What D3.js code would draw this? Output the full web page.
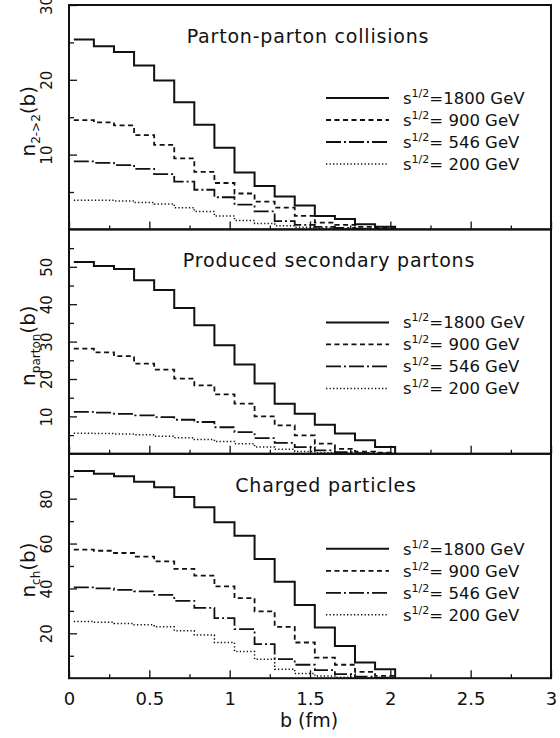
<!DOCTYPE html>
<html lang="en">
<head>
<meta charset="UTF-8" />
<title>b distributions</title>
<style>
  body { margin: 0; background: #fff; }
  svg text { font-family: "DejaVu Sans", sans-serif; fill: #111; }
  .legend text { white-space: pre; }
</style>
</head>
<body>
<div id="wrapper"></div>
<script src="https://d3js.org/d3.v7.min.js"></script>
<script>
// bin left edges in fm (last value is the right edge of the last bin)
const binEdges = [0.03, 0.155, 0.28, 0.405, 0.53, 0.655, 0.78, 0.905, 1.03,
                  1.155, 1.28, 1.405, 1.53, 1.655, 1.78, 1.905, 2.03];

// Parton-parton collisions, n_{2->2}(b)
const collisions1800 = [25.4, 24.5, 23.7, 21.9, 19.9, 17.0, 14.0, 10.9, 7.6, 5.8, 4.4, 3.2, 1.8, 1.4, 0.7, 0.35];
const collisions900  = [14.6, 14.3, 13.9, 12.6, 11.3, 9.5, 7.7, 6.2, 4.8, 3.7, 2.9, 1.8, 0.9, 0.6, 0.35, 0.2];
const collisions546  = [9.1, 8.9, 8.6, 8.1, 7.4, 6.4, 5.3, 4.3, 3.3, 2.4, 1.1, 0.6, 0.35, 0.2, 0.1, 0.05];
const collisions200  = [3.9, 3.9, 3.8, 3.6, 3.4, 2.9, 2.4, 1.8, 1.2, 0.8, 0.5, 0.3, 0.15, 0.08, 0.05, 0.03];

// Produced secondary partons, n_parton(b)
const partons1800 = [51.3, 50.2, 49.4, 46.4, 43.8, 39.0, 34.4, 29.0, 23.9, 18.8, 13.4, 10.7, 7.8, 5.4, 3.6, 1.8];
const partons900  = [28.1, 27.1, 26.1, 24.1, 22.5, 20.1, 18.3, 15.9, 13.4, 10.0, 7.6, 4.9, 2.7, 1.3, 0.6, 0.3];
const partons546  = [11.2, 11.0, 10.7, 10.3, 9.8, 9.1, 8.5, 7.1, 5.8, 4.2, 2.9, 1.8, 0.9, 0.45, 0.2, 0.1];
const partons200  = [5.5, 5.4, 5.3, 5.1, 4.7, 4.3, 3.8, 3.3, 2.7, 1.8, 1.2, 0.6, 0.3, 0.1, 0.05, 0.03];

// Charged particles, n_ch(b)
const charged1800 = [92.3, 91.1, 90.0, 87.6, 85.1, 80.7, 76.2, 69.5, 63.5, 53.1, 43.0, 32.6, 22.6, 14.4, 7.0, 4.0];
const charged900  = [57.3, 56.8, 55.8, 54.2, 52.1, 48.7, 45.7, 40.9, 35.7, 29.8, 22.9, 15.9, 9.2, 6.0, 2.8, 1.0];
const charged546  = [40.5, 40.0, 39.4, 38.7, 37.1, 34.5, 31.3, 26.8, 21.9, 15.2, 8.5, 6.0, 3.6, 1.8, 0.7, 0.3];
const charged200  = [25.3, 24.9, 24.4, 23.8, 22.9, 21.1, 19.2, 15.9, 11.9, 8.5, 4.0, 2.1, 1.0, 0.4, 0.2, 0.1];

const energyLabels = ["=1800 GeV", "= 900 GeV", "= 546 GeV", "= 200 GeV"];
const xTickValues = [0, 0.5, 1, 1.5, 2, 2.5, 3];
const xTickLabels = ["0", "0.5", "1", "1.5", "2", "2.5", "3"];
const xMinorTicks = [0.25, 0.75, 1.25, 1.75, 2.25, 2.75];

const panelTitles = ["Parton-parton collisions", "Produced secondary partons", "Charged particles"];
const panelSubscripts = ["2->2", "parton", "ch"];
const yMaxes = [30, 60, 100];
const yMajorTicks = [[10, 20, 30], [10, 20, 30, 40, 50], [20, 40, 60, 80]];
const yMinorTicks = [[5, 15, 25], [5, 15, 25, 35, 45, 55], [10, 30, 50, 70, 90]];
const yTickLabels = [["10", "20", "30"], ["10", "20", "30", "40", "50"], ["20", "40", "60", "80"]];

const panels = [
  [collisions1800, collisions900, collisions546, collisions200],
  [partons1800, partons900, partons546, partons200],
  [charged1800, charged900, charged546, charged200]
];

// layout
const width = 560, height = 738;
const left = 69, right = 551, top0 = 5, panelH = 224.4;
const titleX = [308, 329, 326];
const dashes = [null, "5,3.5", "15,3,2,3", "1.3,2.2"];
const widths = [2, 1.8, 1.8, 1.5];

const svg = d3.select("#wrapper").append("svg")
  .attr("width", width).attr("height", height);

const x = d3.scaleLinear().domain([0, 3]).range([left, right]);

const line = d3.line()
  .x(d => x(d[0]))
  .y(d => d[1])
  .curve(d3.curveStepAfter);

panels.forEach((series, p) => {
  const pTop = top0 + p * panelH, pBot = pTop + panelH;
  const y = d3.scaleLinear().domain([0, yMaxes[p]]).range([pBot, pTop]);
  const g = svg.append("g");

  // histograms
  series.forEach((vals, s) => {
    const pts = vals.map((v, i) => [binEdges[i], y(v)]);
    pts.push([binEdges[vals.length], y(vals[vals.length - 1])]);
    pts.push([binEdges[vals.length], y(0)]);
    g.append("path")
      .attr("d", line(pts))
      .attr("fill", "none")
      .attr("stroke", "#111")
      .attr("stroke-width", widths[s])
      .attr("stroke-dasharray", dashes[s]);
  });

  // y axis ticks (inward)
  g.append("g").attr("transform", `translate(${left},0)`)
    .call(d3.axisLeft(y).tickValues(yMinorTicks[p]).tickSizeInner(-5).tickSizeOuter(0).tickFormat(""))
    .call(a => a.select(".domain").remove())
    .selectAll("line").attr("stroke", "#111").attr("stroke-width", 1.3);
  const ya = g.append("g").attr("transform", `translate(${left},0)`)
    .call(d3.axisLeft(y).tickValues(yMajorTicks[p]).tickSizeInner(-8).tickSizeOuter(0)
      .tickFormat((d, i) => yTickLabels[p][i]));
  ya.select(".domain").remove();
  ya.selectAll("line").attr("stroke", "#111").attr("stroke-width", 1.3);
  ya.selectAll("text")
    .attr("transform", "rotate(-90)")
    .attr("x", 0).attr("y", -17).attr("dy", null)
    .attr("text-anchor", "middle")
    .attr("font-size", 15).attr("fill", "#111")
    .style("font-family", "DejaVu Sans");

  // x axis ticks (inward) at panel bottom
  g.append("g").attr("transform", `translate(0,${pBot})`)
    .call(d3.axisBottom(x).tickValues(xMinorTicks).tickSizeInner(-4).tickSizeOuter(0).tickFormat(""))
    .call(a => a.select(".domain").remove())
    .selectAll("line").attr("stroke", "#111").attr("stroke-width", 1.3);
  const xa = g.append("g").attr("transform", `translate(0,${pBot})`)
    .call(d3.axisBottom(x).tickValues(xTickValues).tickSizeInner(-8).tickSizeOuter(0)
      .tickFormat((d, i) => p === 2 ? xTickLabels[i] : ""));
  xa.select(".domain").remove();
  xa.selectAll("line").attr("stroke", "#111").attr("stroke-width", 1.3);
  xa.selectAll("text")
    .attr("y", 27).attr("dy", null)
    .attr("font-size", 18).attr("fill", "#111")
    .style("font-family", "DejaVu Sans");

  // frame
  g.append("rect")
    .attr("x", left).attr("y", pTop)
    .attr("width", right - left).attr("height", panelH)
    .attr("fill", "none").attr("stroke", "#111").attr("stroke-width", 2);

  // title
  g.append("text")
    .attr("x", titleX[p]).attr("y", pTop + 38)
    .attr("text-anchor", "middle")
    .attr("font-size", 19)
    .attr("letter-spacing", 0.8)
    .text(panelTitles[p]);

  // legend
  const lg = g.append("g").attr("class", "legend");
  energyLabels.forEach((lab, s) => {
    const ly = pTop + 93 + s * 22 + (p === 2 ? 2 : 0);
    lg.append("line")
      .attr("x1", 326).attr("x2", 389).attr("y1", ly).attr("y2", ly)
      .attr("stroke", "#111").attr("stroke-width", widths[s])
      .attr("stroke-dasharray", dashes[s]);
    const t = lg.append("text").attr("x", 403).attr("y", ly + 6).attr("font-size", 16.5);
    t.append("tspan").text("s");
    t.append("tspan").attr("dy", -7).attr("font-size", 11).text("1/2");
    t.append("tspan").attr("dy", 7).text(lab);
  });

  // y label
  const yl = g.append("text")
    .attr("transform", `translate(35,${(pTop + pBot) / 2 + 4}) rotate(-90)`)
    .attr("text-anchor", "middle")
    .attr("font-size", 20);
  yl.append("tspan").text("n");
  yl.append("tspan").attr("dy", 5).attr("font-size", 12).text(panelSubscripts[p]);
  yl.append("tspan").attr("dy", -5).text("(b)");
});

// x label
svg.append("text")
  .attr("x", 309).attr("y", 727)
  .attr("text-anchor", "middle")
  .attr("font-size", 19)
  .text("b (fm)");
</script>
</body>
</html>
